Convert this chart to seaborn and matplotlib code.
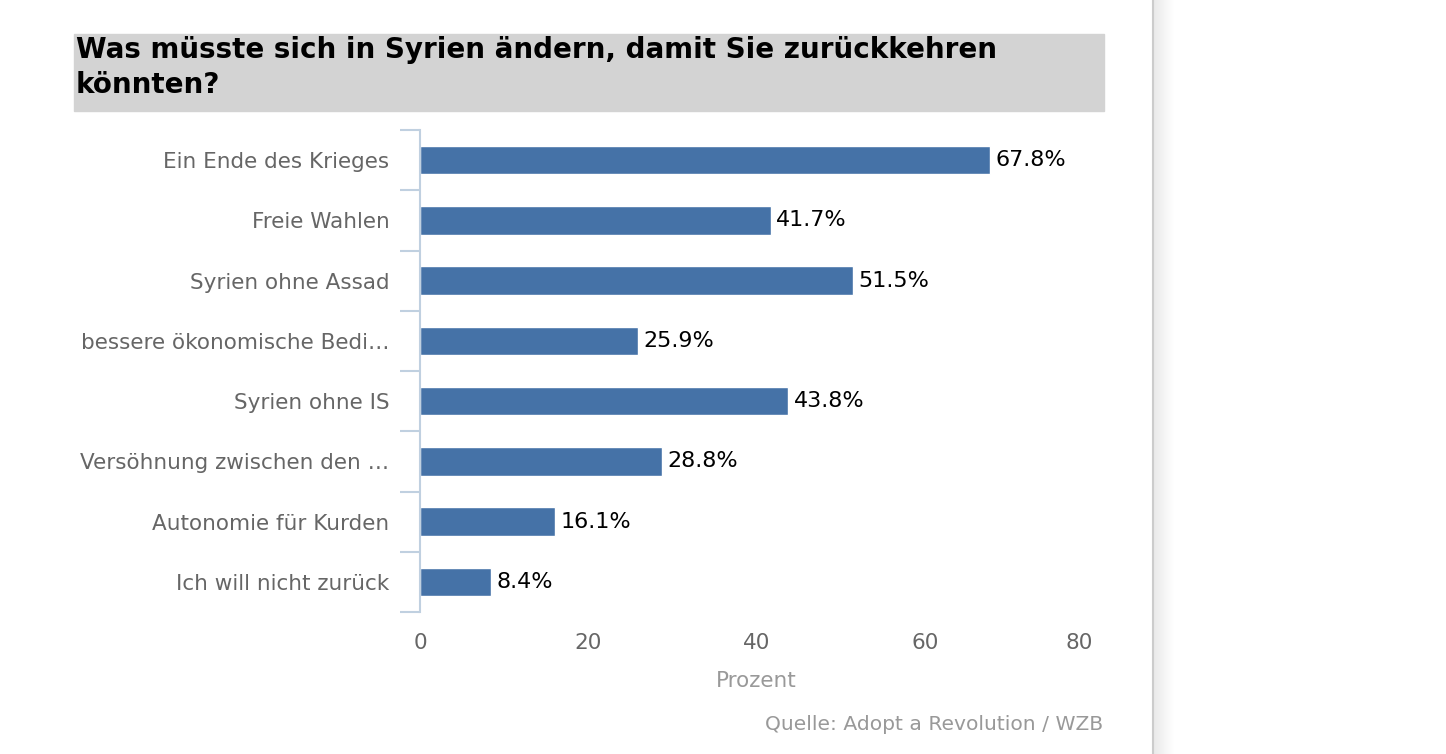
import numpy as np
import pandas as pd
import matplotlib.pyplot as plt
import seaborn as sns
from matplotlib.patches import Rectangle

# --- data ---
answers = [
    "Ein Ende des Krieges",
    "Freie Wahlen",
    "Syrien ohne Assad",
    "bessere ökonomische Bedi…",
    "Syrien ohne IS",
    "Versöhnung zwischen den …",
    "Autonomie für Kurden",
    "Ich will nicht zurück",
]
percent = [67.8, 41.7, 51.5, 25.9, 43.8, 28.8, 16.1, 8.4]
x_ticks = [0, 20, 40, 60, 80]

df = pd.DataFrame({"Antwort": answers, "Prozent": percent})

sns.set_style("white")
plt.rcParams["font.family"] = ["DejaVu Sans"]

W, H = 1446, 754
fig = plt.figure(figsize=(W / 100, H / 100), dpi=100)
ax = fig.add_axes([420 / W, 1 - 612 / H, (1093 - 420) / W, (612 - 130) / H])

sns.barplot(data=df, x="Prozent", y="Antwort", color="#4572A7", width=0.47,
            saturation=1, ax=ax)
ax.bar_label(ax.containers[0], fmt="%.1f%%", padding=4, fontsize=16, color="black")

ax.set_xlim(0, 80)
ax.set_ylim(len(answers) - 0.5, -0.5)
for s in ["top", "right", "bottom"]:
    ax.spines[s].set_visible(False)
ax.spines["left"].set_color("#C0D0E0")
ax.spines["left"].set_linewidth(1.5)

# category labels centred, tick marks at the boundaries
ax.set_yticks(np.arange(-0.5, len(answers)), labels=[])
ax.set_yticks(np.arange(len(answers)), labels=answers, minor=True)
ax.tick_params(axis="y", which="major", length=14.5, width=1.5, color="#C0D0E0", left=True)
ax.tick_params(axis="y", which="minor", length=0, pad=22, labelsize=15.5, labelcolor="#666666")
ax.set_ylabel("")

ax.set_xticks(x_ticks)
ax.tick_params(axis="x", length=0, pad=15, labelsize=15.5, labelcolor="#666666")
ax.get_xticklabels()[-1].set_ha("right")
ax.set_xlabel("Prozent", fontsize=15.5, color="#999999", labelpad=13)

# title box
fig.patches.append(Rectangle((74 / W, 1 - 111 / H), (1104 - 74) / W, 77 / H,
                             transform=fig.transFigure, color="#D3D3D3", zorder=0))
fig.text(76 / W, 1 - 36 / H, "Was müsste sich in Syrien ändern, damit Sie zurückkehren\nkönnten?",
         fontsize=20, fontweight="bold", color="black", va="top", ha="left",
         linespacing=1.3)

fig.text(1103 / W, 1 - 724 / H, "Quelle: Adopt a Revolution / WZB",
         fontsize=14.6, color="#999999", ha="right", va="center")

# page edge with shadow on the right
fig.add_artist(plt.Line2D([1153 / W, 1153 / W], [0, 1], transform=fig.transFigure,
                          color="#CCCCCC", linewidth=1.5))
sh = fig.add_axes([1154 / W, 0, 20 / W, 1])
grad = np.linspace(0, 1, 50).reshape(1, -1)
sh.imshow(grad, aspect="auto", cmap=sns.blend_palette(["#EAEAEA", "#FFFFFF"], as_cmap=True),
          extent=[0, 1, 0, 1])
sh.axis("off")

fig.savefig("out.png", dpi=100)
